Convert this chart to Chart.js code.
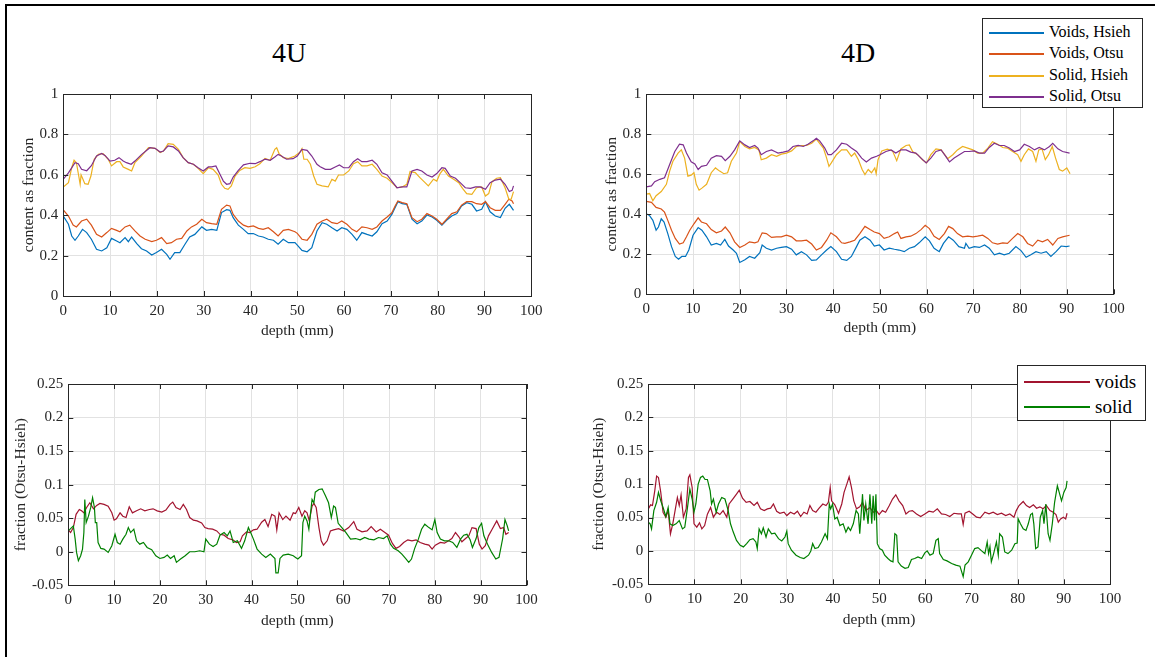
<!DOCTYPE html>
<html>
<head>
<meta charset="utf-8">
<title>4U / 4D void and solid content</title>
<script src="https://cdn.jsdelivr.net/npm/chart.js"></script>
<style>
body{margin:0;background:#fff;width:1155px;height:657px;overflow:hidden;position:relative;font-family:"Liberation Serif","Times New Roman",serif;}
.frame{position:absolute;left:5px;top:4px;width:1200px;height:700px;border-left:2px solid #000;border-top:2px solid #000;}
canvas{position:absolute;}
.ttl{position:absolute;font-size:28px;line-height:28px;color:#000;transform:translateX(-50%);white-space:nowrap;}
.lg{position:absolute;background:#fff;border:1px solid #262626;box-sizing:border-box;}
.lg .t{position:absolute;white-space:nowrap;color:#000;}
.lg .l{position:absolute;height:1.6px;}
</style>
</head>
<body>
<div class="frame"></div>
<div class="ttl" style="left:289px;top:38.5px">4U</div>
<div class="ttl" style="left:858px;top:38.5px">4D</div>
<canvas id="c4u"></canvas>
<canvas id="c4d"></canvas>
<canvas id="d4u"></canvas>
<canvas id="d4d"></canvas>
<div class="lg" id="lgTop"></div>
<div class="lg" id="lgBottom"></div>
<script>
// ---- axes ----
const xTicks = [0, 10, 20, 30, 40, 50, 60, 70, 80, 90, 100];
const fracTicks = [0, 0.2, 0.4, 0.6, 0.8, 1];
const diffTicks = [-0.05, 0, 0.05, 0.1, 0.15, 0.2, 0.25];

const topNames = ['Voids, Hsieh', 'Voids, Otsu', 'Solid, Hsieh', 'Solid, Otsu'];
const topColors = ['#0072BD', '#D95319', '#EDB120', '#7E2F8E'];
const diffNames = ['voids', 'solid'];
const diffColors = ['#A2142F', '#008000'];

// ---- 4U content, [depth mm, fraction] ----
const uVoidsHsieh = [[0,.396],[1.1,.355],[1.8,.297],[2.5,.276],[3.2,.297],[4.1,.33],[5,.314],[6,.281],[7.1,.231],[8.2,.223],[9.3,.239],[10.3,.285],[11.4,.272],[12.1,.264],[13.2,.289],[13.9,.269],[14.6,.292],[15.7,.259],[16.7,.234],[17.8,.223],[18.9,.203],[19.9,.215],[21,.231],[22.1,.206],[22.8,.182],[23.8,.215],[24.9,.215],[26,.256],[27,.292],[28.1,.305],[29.6,.342],[30.6,.325],[31.7,.33],[32.8,.325],[33.8,.413],[34.9,.427],[35.6,.424],[36.3,.388],[37.4,.351],[38.5,.33],[39.5,.309],[40.6,.309],[41.7,.297],[42.7,.292],[43.8,.281],[44.9,.276],[45.9,.256],[47,.281],[48.1,.264],[49.5,.264],[50,.252],[51,.226],[52.1,.219],[53.1,.239],[54.2,.322],[55.3,.363],[56.3,.355],[57.4,.338],[58.5,.322],[59.5,.338],[60.6,.33],[61.7,.305],[62.7,.276],[63.8,.314],[64.9,.305],[66,.297],[67,.318],[68.1,.358],[69.2,.371],[70.2,.404],[71.5,.467],[72.4,.457],[73.4,.454],[74.5,.38],[75.6,.358],[76.6,.371],[77.7,.401],[78.8,.391],[79.8,.375],[80.9,.351],[81.9,.375],[83,.396],[84.1,.408],[85.1,.446],[86.2,.462],[87.3,.454],[88.3,.421],[89.4,.429],[90.2,.467],[91.2,.417],[92.3,.396],[93.4,.388],[94.4,.434],[95.3,.454],[96.2,.424]];
const uVoidsOtsu = [[0,.426],[1.1,.396],[2.1,.351],[2.8,.342],[3.9,.371],[5,.38],[6,.351],[7.1,.305],[8.2,.292],[9.3,.314],[10.3,.335],[11.4,.325],[12.1,.318],[13.2,.342],[14.2,.351],[15.3,.322],[16.4,.297],[17.5,.281],[18.9,.269],[19.9,.276],[21,.289],[22.1,.259],[23.1,.264],[24.2,.281],[25.3,.285],[26.4,.322],[27.4,.342],[28.5,.355],[29.6,.38],[30.6,.363],[31.7,.358],[32.8,.355],[33.8,.429],[34.9,.45],[35.6,.446],[36.3,.404],[37.4,.371],[38.5,.351],[39.5,.342],[40.6,.347],[41.7,.335],[42.7,.33],[43.8,.338],[44.9,.318],[45.9,.297],[47,.325],[48.1,.33],[49.5,.318],[50,.31],[51,.281],[52.1,.276],[53.1,.305],[54.2,.355],[55.3,.371],[56.3,.38],[57.4,.363],[58.5,.358],[59.5,.371],[60.6,.355],[61.7,.33],[62.7,.318],[63.8,.342],[64.9,.338],[66,.33],[67,.342],[68.1,.371],[69.2,.391],[70.2,.412],[70.9,.446],[71.5,.47],[72.4,.462],[73.4,.457],[74.5,.388],[75.6,.368],[76.6,.38],[77.7,.408],[78.8,.396],[79.8,.38],[80.9,.355],[81.9,.38],[83,.408],[84.1,.417],[85.1,.45],[86.2,.467],[87.3,.467],[88.3,.457],[89.4,.454],[90.2,.467],[91.2,.437],[92.3,.424],[93.4,.424],[94.4,.454],[95.2,.479],[95.9,.47],[96.2,.457]];
const uSolidHsieh = [[0,.54],[1.1,.561],[1.8,.635],[2.3,.672],[2.8,.66],[3.3,.594],[3.6,.553],[3.8,.6],[4.6,.556],[5.3,.553],[5.9,.594],[6.6,.677],[7.5,.701],[8.5,.705],[9.6,.677],[10.3,.644],[11.4,.665],[12.1,.665],[12.8,.639],[13.9,.627],[14.6,.619],[15.3,.66],[16.7,.693],[18.2,.734],[19.6,.731],[20.7,.71],[21.4,.718],[22.4,.754],[23.5,.751],[24.6,.726],[25.6,.685],[26.7,.66],[27.8,.652],[28.8,.632],[29.9,.606],[31,.635],[32,.627],[33.1,.599],[33.8,.553],[34.5,.533],[35.2,.528],[35.9,.545],[36.7,.594],[37.7,.622],[38.8,.635],[39.9,.632],[41,.64],[42,.655],[43.1,.681],[44.2,.672],[45.2,.726],[45.6,.734],[46.1,.705],[47,.685],[48.1,.68],[49.5,.693],[50.5,.71],[51,.729],[51.4,.677],[52.1,.677],[52.8,.652],[53.5,.594],[54.2,.553],[55.3,.545],[56.6,.54],[57.4,.578],[58.1,.569],[58.8,.599],[59.9,.599],[61,.619],[62,.655],[62.9,.665],[63.8,.644],[64.9,.644],[66,.652],[67,.627],[68.1,.594],[69.2,.583],[70.2,.561],[71.3,.536],[72.4,.54],[73.4,.553],[74.1,.616],[75.2,.611],[76.2,.586],[77.3,.561],[78,.545],[79.1,.578],[79.8,.569],[80.5,.606],[81.2,.627],[82.3,.594],[83.4,.578],[84.5,.561],[85.3,.533],[86.2,.507],[87.3,.503],[88.3,.536],[89.4,.54],[90.2,.495],[90.9,.507],[91.6,.566],[92.6,.583],[93.4,.586],[94.4,.536],[95.2,.479],[95.7,.479],[96.2,.517]];
const uSolidOtsu = [[0,.578],[1.1,.61],[2.5,.66],[3.2,.655],[3.9,.627],[5,.62],[6,.645],[7.1,.693],[8.2,.706],[8.9,.696],[10,.668],[11,.672],[11.9,.685],[12.8,.668],[13.5,.66],[14.5,.652],[15.3,.668],[16.7,.7],[18.5,.734],[19.6,.731],[20.7,.713],[21.4,.718],[22.4,.743],[23.5,.738],[24.6,.718],[25.6,.685],[26.7,.66],[27.8,.652],[28.8,.635],[29.9,.619],[31,.639],[31.7,.639],[32.6,.644],[33.5,.602],[34.2,.569],[34.9,.553],[35.6,.556],[36.3,.589],[37.4,.622],[38.5,.649],[39.9,.657],[41,.655],[42,.665],[43.1,.677],[44.2,.672],[45.2,.688],[45.9,.701],[46.6,.693],[47.7,.677],[49.1,.68],[50,.693],[51,.726],[52.1,.721],[53.1,.693],[54.2,.652],[54.9,.64],[56,.627],[57.1,.627],[58.1,.639],[59,.649],[59.9,.635],[61,.635],[62,.665],[62.9,.68],[63.8,.665],[64.9,.665],[66,.672],[67,.652],[68.1,.61],[69.2,.599],[70.2,.569],[71.3,.536],[72.4,.54],[73.4,.54],[74.5,.619],[75.6,.627],[76.6,.619],[77.7,.599],[78.8,.589],[79.8,.606],[80.9,.635],[81.6,.632],[82.7,.594],[83.8,.583],[84.8,.561],[85.9,.536],[87,.533],[88.1,.54],[89.1,.54],[90.2,.528],[91.2,.561],[92.3,.574],[93.4,.578],[94.4,.553],[95.3,.517],[95.9,.523],[96.2,.545]];

// ---- 4D content ----
const dVoidsHsieh = [[0,.402],[0.7,.393],[1.4,.369],[2.1,.32],[2.6,.336],[3.2,.377],[3.8,.361],[4.6,.303],[5.4,.238],[6.2,.189],[6.9,.175],[7.6,.189],[8.4,.189],[9.1,.221],[10,.295],[11.1,.333],[11.9,.32],[12.9,.287],[13.9,.246],[15,.254],[15.9,.246],[16.8,.274],[17.6,.241],[18.6,.221],[19.3,.205],[20,.159],[21.1,.172],[22.1,.189],[23.2,.18],[24.3,.208],[24.8,.246],[25.7,.23],[26.8,.221],[27.9,.23],[28.9,.234],[30,.238],[31.1,.225],[32.1,.197],[33.2,.213],[34.3,.197],[35.4,.169],[36.4,.172],[37.5,.197],[38.6,.221],[39.5,.238],[40.7,.213],[41.8,.175],[42.9,.169],[43.9,.189],[45,.238],[45.7,.27],[46.8,.287],[47.9,.27],[48.8,.241],[49.9,.246],[50.9,.221],[52,.23],[53.1,.225],[54.1,.221],[55.2,.213],[56.3,.23],[57.4,.238],[58.4,.257],[59.7,.287],[60.6,.267],[61.6,.23],[62.7,.213],[63.6,.254],[64.7,.287],[65.7,.27],[66.9,.238],[68.1,.23],[68.4,.254],[69.1,.23],[70.2,.238],[71.3,.234],[72.4,.246],[73.4,.23],[74.5,.197],[75.6,.205],[76.6,.197],[77.7,.205],[79.1,.238],[80.2,.218],[81.3,.185],[82.3,.197],[83.4,.213],[84.5,.205],[85.6,.213],[86.6,.189],[87.7,.213],[88.8,.241],[89.9,.238],[90.6,.241]];
const dVoidsOtsu = [[0,.464],[1.1,.459],[2.1,.434],[3.2,.426],[3.9,.41],[4.6,.369],[5.4,.32],[6.2,.279],[7.1,.251],[7.9,.257],[8.6,.287],[9.3,.32],[10.2,.352],[11.1,.382],[11.8,.361],[12.9,.352],[13.9,.323],[15,.307],[16.1,.316],[16.9,.336],[17.9,.307],[18.9,.262],[20,.234],[21.1,.246],[22.1,.262],[23.2,.257],[23.9,.262],[24.8,.307],[25.7,.303],[26.8,.284],[27.9,.287],[28.9,.287],[30,.295],[31.1,.287],[32.1,.267],[33.2,.267],[34.3,.27],[35.4,.251],[36.4,.221],[37.5,.234],[38.6,.27],[39.5,.307],[40.7,.287],[41.8,.257],[42.5,.254],[43.6,.262],[44.6,.27],[45.7,.303],[46.8,.339],[47.9,.323],[48.8,.311],[49.9,.303],[50.9,.279],[52,.287],[53.1,.303],[53.8,.311],[54.5,.279],[55.6,.287],[56.6,.29],[57.7,.303],[58.8,.323],[59.7,.344],[60.6,.328],[61.6,.29],[62.7,.274],[63.8,.303],[64.7,.339],[65.6,.328],[66.6,.303],[67.7,.287],[68.8,.29],[69.9,.287],[70.9,.29],[72,.295],[73.1,.279],[74.1,.257],[75.2,.251],[76.3,.257],[77.3,.254],[78.4,.279],[79.5,.303],[80.6,.287],[81.6,.254],[82.7,.241],[83.8,.27],[84.8,.262],[85.9,.274],[87,.246],[88.1,.279],[89.1,.287],[90.6,.295]];
const dSolidHsieh = [[0,.5],[0.7,.503],[1.4,.467],[2.1,.492],[3.2,.513],[4.3,.549],[5,.615],[5.7,.664],[6.8,.705],[7.5,.721],[8.2,.68],[8.9,.59],[9.6,.595],[10.2,.607],[10.7,.549],[11.3,.52],[11.9,.53],[12.9,.549],[13.9,.607],[14.8,.631],[15.7,.615],[16.6,.602],[17.4,.607],[18.2,.664],[19.3,.705],[20,.762],[21.1,.738],[22.1,.726],[23.2,.733],[24.1,.721],[24.6,.672],[25.7,.68],[26.8,.697],[27.9,.689],[28.9,.7],[30,.705],[31.1,.716],[32.1,.738],[33.2,.743],[34.3,.743],[35.4,.754],[36.4,.775],[37.1,.754],[37.9,.73],[38.6,.68],[39.1,.639],[39.6,.656],[40.7,.697],[41.8,.721],[42.9,.721],[43.9,.689],[44.6,.705],[45.4,.672],[46.2,.623],[46.8,.598],[47.5,.623],[48.2,.607],[48.9,.631],[49.2,.602],[49.6,.672],[50.4,.716],[51.6,.725],[52.7,.716],[53.6,.667],[54.5,.726],[55.6,.743],[56.3,.746],[57,.713],[58.1,.697],[59.1,.672],[60,.656],[60.9,.697],[62,.726],[63.1,.721],[64.5,.677],[65.6,.697],[66.6,.721],[67.7,.738],[68.8,.73],[69.9,.721],[70.9,.705],[72,.705],[73.1,.73],[74.1,.762],[75.2,.749],[76.3,.733],[77.3,.73],[78.4,.713],[79.5,.697],[80.2,.664],[80.9,.697],[81.8,.726],[82.7,.713],[83.4,.664],[84,.721],[84.7,.726],[85.4,.672],[86.1,.697],[86.9,.738],[87.6,.68],[88.4,.623],[89.1,.615],[90,.631],[90.7,.602]];
const dSolidOtsu = [[0,.536],[1.1,.541],[1.8,.562],[2.9,.574],[3.9,.582],[5,.648],[6.1,.713],[7.1,.749],[7.9,.746],[8.6,.705],[9.6,.661],[10.4,.651],[11.1,.623],[11.8,.639],[12.9,.644],[13.9,.68],[15,.692],[16.1,.689],[16.9,.667],[17.9,.689],[18.9,.721],[20,.766],[21.1,.746],[22.1,.733],[23.2,.743],[23.9,.73],[24.6,.697],[25.7,.713],[26.8,.721],[27.5,.713],[28.2,.705],[29.3,.71],[30.4,.716],[31.4,.738],[32.5,.743],[33.6,.738],[34.6,.749],[35.7,.766],[36.4,.779],[37.1,.766],[38.2,.73],[38.9,.697],[39.6,.697],[40.7,.721],[41.8,.754],[42.9,.749],[43.9,.73],[45,.713],[46.1,.68],[47.1,.661],[48.2,.68],[49.3,.689],[50,.697],[51.3,.713],[52.4,.721],[53.4,.705],[54.5,.721],[55.6,.721],[56.6,.71],[57.7,.705],[58.8,.68],[59.9,.656],[60.9,.68],[62,.713],[63.1,.721],[64.1,.689],[64.9,.661],[65.9,.68],[67,.697],[68.1,.713],[69.1,.713],[70.2,.716],[71.3,.705],[72.4,.705],[73.4,.733],[74.5,.754],[75.6,.743],[76.6,.743],[77.7,.73],[78.8,.713],[79.9,.721],[80.9,.749],[82,.738],[83.1,.721],[84.1,.733],[85.2,.721],[86.3,.738],[87,.754],[88.1,.726],[89.1,.713],[90.6,.705]];

// ---- Otsu - Hsieh differences ----
const uDiffVoids = [[0,.0326],[0.5,.0286],[1.1,.036],[1.7,.0558],[2.4,.063],[2.9,.061],[3.4,.058],[4,.066],[4.7,.073],[5.5,.064],[6.2,.069],[6.9,.072],[7.8,.0706],[8.7,.068],[9.5,.058],[10,.047],[10.5,.049],[11.3,.058],[11.9,.053],[12.6,.051],[13.3,.067],[14,.058],[14.9,.061],[15.8,.064],[16.7,.061],[17.7,.063],[18.5,.064],[19.4,.061],[20.4,.059],[21.3,.062],[22.2,.0706],[22.8,.074],[23.5,.066],[24.4,.063],[25.1,.0706],[25.8,.063],[26.5,.051],[27.3,.047],[28.1,.046],[29.1,.043],[29.8,.036],[30.5,.0345],[31.5,.0336],[32.4,.031],[33.1,.026],[34,.0247],[34.9,.0197],[35.9,.0178],[36.7,.0138],[37.5,.0148],[38,.0237],[38.9,.0296],[39.6,.0286],[40.4,.0326],[41.2,.0336],[42.2,.044],[42.9,.048],[43.6,.0375],[44.4,.0558],[45.1,.053],[45.5,.0326],[46,.058],[46.8,.048],[47.5,.053],[48.4,.047],[49.1,.058],[49.6,.057],[50.3,.066],[51,.053],[51.6,.061],[52.1,.058],[52.6,.046],[53.2,.068],[53.6,.072],[54.1,.066],[54.7,.036],[55.2,.0163],[55.7,.0099],[56.5,.0163],[57.2,.031],[57.9,.0326],[59,.0345],[60.1,.031],[61.2,.036],[62.3,.045],[63,.0336],[64.1,.0296],[65.2,.031],[66.1,.0375],[67.2,.0296],[68.1,.0336],[69.1,.0286],[69.9,.0247],[70.7,.0128],[71.5,.005],[72.3,.0079],[73.2,.0138],[74.1,.0178],[75,.0163],[75.9,.0178],[76.8,.0138],[77.8,.0113],[78.7,.0099],[79.4,.004],[80.1,.0099],[81.2,.0138],[82.1,.0128],[83,.0163],[83.7,.0197],[84.5,.0286],[85.2,.0227],[85.9,.0148],[86.7,.0197],[87.4,.0237],[88.1,.036],[89,.0345],[89.7,.0113],[90.3,.004],[91,.0089],[91.7,.0237],[92.5,.0336],[93.5,.046],[94.3,.0345],[95,.036],[95.5,.026],[96.1,.0286]];
const uDiffSolid = [[0,.031],[0.5,.0345],[1.1,.0385],[1.5,.0188],[1.8,-.001],[2.2,-.0133],[2.7,-.006],[3.1,.004],[3.4,.0286],[3.6,.078],[3.9,.0434],[4.4,.053],[4.9,.066],[5.3,.0805],[5.7,.066],[5.9,.0434],[6.2,.0434],[6.5,.0138],[7.1,.005],[7.8,.004],[8.7,-.001],[9.5,.0089],[10.2,.026],[10.7,.0138],[11.3,.0113],[11.9,.0188],[12.6,.026],[13.1,.036],[13.6,.0286],[14.3,.0336],[14.9,.0163],[15.6,.0113],[16.4,.0138],[17.2,.0064],[18.2,.003],[19.1,-.006],[20,-.01],[20.9,-.0084],[21.6,-.005],[22.3,-.01],[23.1,-.006],[23.6,-.0158],[24.5,-.0109],[25.5,-.006],[26.5,0],[27.6,0],[28.7,.0015],[29.6,0],[30,.0188],[30.8,.0113],[31.6,.0079],[32.4,.0113],[33.1,.0247],[34,.0286],[34.7,.0237],[35.3,.031],[36,.0138],[36.9,.0163],[37.8,.005],[38.5,.0163],[39.3,.036],[39.8,.0286],[40.4,.0188],[41.2,.004],[42.2,-.0035],[43.1,-.0084],[44.1,-.0035],[45.1,-.01],[45.3,-.0316],[45.8,-.0316],[46.2,-.01],[46.9,-.005],[48,-.0035],[49.1,-.006],[49.6,-.0084],[50.1,-.0109],[50.9,-.006],[51.2,.0434],[51.6,.053],[52.1,.046],[52.5,.0336],[52.8,.053],[53.2,.078],[53.6,.073],[53.9,.0888],[54.7,.0928],[55.4,.0938],[56.1,.0839],[56.8,.073],[57.4,.051],[57.9,.068],[58.3,.066],[58.9,.0424],[59.7,.036],[60.6,.0286],[61.6,.0188],[62.7,.0197],[63.7,.0178],[64.7,.0212],[65.6,.0188],[66.7,.0178],[67.7,.0212],[68.8,.0197],[69.6,.0237],[70.3,.0113],[71,.005],[72,.0015],[72.8,-.0035],[73.6,-.01],[74.3,-.0158],[74.9,-.0109],[75.6,.005],[76.4,.0188],[77.1,.0336],[77.8,.041],[78.7,.036],[79.4,.0326],[80,.048],[80.5,.0286],[81.2,.0188],[82.1,.0163],[83,.0163],[83.9,.0138],[84.8,.0064],[85.6,.0188],[86.3,.0247],[87,.026],[87.7,.0178],[88.2,.0064],[89,.0197],[89.6,.036],[90.2,.0424],[90.7,.0237],[91.5,.0113],[92.4,-.001],[93.3,-.0109],[94,-.0084],[94.8,.0197],[95.3,.048],[95.8,.0385],[96.1,.031]];
const dDiffVoids = [[0,.063],[0.5,.069],[0.9,.068],[1.4,.09],[1.8,.112],[2.2,.11],[2.7,.0876],[3.2,.058],[3.8,.0505],[4.3,.0604],[4.8,.0257],[5.3,.0406],[5.8,.0604],[6.3,.08],[6.7,.068],[7.1,.084],[7.6,.0505],[8.2,.063],[8.7,.11],[9,.114],[9.5,.095],[9.9,.0406],[10.5,.0356],[11.1,.042],[11.6,.033],[12.2,.038],[12.8,.055],[13.5,.065],[14.1,.0505],[14.8,.058],[15.5,.0545],[16.2,.0604],[17,.0505],[17.5,.0703],[18.3,.0777],[19.1,.085],[19.7,.091],[20.4,.079],[21.2,.0728],[22,.074],[22.9,.068],[23.6,.0728],[24.3,.063],[25.1,.0604],[25.8,.063],[26.5,.064],[27.1,.0703],[27.8,.0594],[28.5,.0564],[29.4,.058],[30,.053],[30.8,.058],[31.6,.0554],[32.3,.0594],[33,.0515],[33.7,.058],[34.4,.0554],[35,.068],[35.6,.0604],[36.3,.058],[37,.064],[37.8,.0703],[38.5,.068],[39,.0728],[39.4,.095],[39.7,.075],[40.4,.069],[41.2,.0564],[41.9,.0703],[42.4,.0876],[43,.1],[43.5,.111],[44,.095],[44.5,.075],[45.1,.063],[45.8,.066],[46.4,.0728],[47.1,.0604],[48,.065],[48.7,.058],[49.4,.0604],[50,.0545],[50.7,.0604],[51.4,.058],[52.2,.068],[52.9,.0777],[53.6,.084],[54.3,.075],[55.1,.068],[55.8,.0554],[56.5,.0594],[57.2,.0604],[58.1,.0554],[59,.0515],[59.9,.0554],[60.8,.0594],[61.7,.058],[62.6,.063],[63.5,.0554],[64.4,.0545],[65.3,.0515],[66.2,.0564],[67.1,.0554],[67.8,.0554],[68.2,.0396],[68.6,.0564],[69.5,.0594],[70.4,.0545],[71.1,.0505],[71.9,.0495],[72.9,.058],[73.8,.0554],[74.7,.058],[75.6,.0545],[76.5,.0564],[77.4,.053],[78.3,.0554],[79.2,.0505],[79.7,.0604],[80.3,.068],[81.2,.074],[81.9,.068],[82.6,.065],[83.4,.069],[84.1,.064],[84.8,.066],[85.5,.063],[86.2,.068],[87,.0604],[87.7,.058],[88.3,.0545],[88.8,.043],[89.3,.048],[89.9,.0505],[90.4,.048],[90.7,.0564]];
const dDiffSolid = [[0,.043],[0.4,.0406],[0.7,.033],[1.2,.0604],[1.8,.0728],[2.2,.0876],[2.7,.075],[3.2,.065],[3.8,.0515],[4.3,.065],[4.7,.0406],[5.3,.038],[6,.0406],[6.7,.0455],[7.4,.033],[7.9,.0356],[8.4,.0604],[9,.0926],[9.5,.0777],[9.9,.058],[10.3,.0703],[10.8,.1],[11.3,.11],[11.8,.112],[12.3,.107],[12.8,.107],[13.4,.09],[13.7,.0703],[14.1,.0777],[14.7,.058],[15.2,.0703],[15.9,.08],[16.6,.0777],[17.3,.0604],[17.8,.0406],[18.4,.0282],[19.1,.0158],[19.9,.0084],[20.6,.006],[21.3,.0109],[22,.0168],[22.7,.0183],[23.3,.0134],[23.6,.0035],[24,.033],[24.5,.0257],[24.9,.0347],[25.5,.0208],[26,.033],[26.7,.0257],[27.4,.0267],[28.2,.0183],[28.9,.0149],[29.6,.0208],[30,.0297],[30.3,.0109],[31,.001],[32,-.0064],[32.9,-.0099],[33.7,-.0114],[34.7,-.0064],[35.2,0],[35.6,.0109],[36.1,.0035],[36.8,.005],[37.5,.0134],[38.3,.0257],[38.8,.0183],[39.2,.0703],[39.5,.063],[39.9,.0703],[40.4,.048],[40.9,.0505],[41.5,.038],[42.2,.0406],[42.8,.0282],[43.3,.0356],[43.8,.0307],[44.4,.0406],[45,.0604],[45.5,.0554],[45.8,.0257],[46.4,.085],[46.7,.0455],[47.1,.0703],[47.6,.0406],[48,.085],[48.4,.0406],[48.7,.0827],[49,.0455],[49.3,.085],[49.6,.0109],[50.1,.0035],[50.7,.001],[51.2,-.0064],[51.9,-.0114],[52.5,-.0149],[53,-.0163],[53.4,.0257],[53.8,.0233],[54.1,-.0163],[54.8,-.0228],[55.6,-.026],[56.3,-.0248],[57,-.0129],[57.7,-.0114],[58.4,-.0089],[59.2,-.0114],[59.9,-.003],[60.4,0],[61,-.0064],[61.7,-.004],[62.3,.0158],[62.8,.0183],[63.1,-.004],[63.9,-.0129],[64.7,-.0149],[65.7,-.0188],[66.6,-.0213],[67.5,-.0228],[68.2,-.0386],[68.6,-.0213],[69.3,-.0163],[70,-.0064],[70.7,.0035],[71.4,.005],[72.2,0],[72.9,-.004],[73.4,.0134],[73.7,-.004],[74,.006],[74.3,-.0163],[74.8,-.004],[75.4,.0134],[75.8,-.0064],[76.1,.0257],[76.7,.0208],[77.2,-.0015],[77.9,-.004],[78.7,.001],[79.4,.0109],[79.9,.0119],[80.1,.048],[80.6,.0406],[81.2,.033],[81.8,.0307],[82.3,.0406],[82.8,.0545],[83.2,.0564],[83.5,.0406],[83.9,.0035],[84.4,.006],[84.9,.0505],[85.4,.0604],[85.7,.0406],[86.1,.0703],[86.6,.0257],[87,.0158],[87.5,.0406],[88,.0728],[88.6,.0975],[89,.0876],[89.5,.075],[90,.0876],[90.5,.095],[90.7,.105]];

const serif = '"Liberation Serif", "Times New Roman", serif';
const axisInk = '#262626';

// matlab style box with inward ticks on all four sides
const boxPlugin = {
    id: 'box',
    afterDatasetsDraw(chart) {
        const {ctx, chartArea: a, scales: {x, y}} = chart;
        ctx.save();
        ctx.strokeStyle = axisInk;
        ctx.lineWidth = 1;
        ctx.beginPath();
        x.ticks.forEach(t => {
            const px = Math.round(x.getPixelForValue(t.value)) + 0.5;
            ctx.moveTo(px, a.bottom); ctx.lineTo(px, a.bottom - 5);
            ctx.moveTo(px, a.top); ctx.lineTo(px, a.top + 5);
        });
        y.ticks.forEach(t => {
            const py = Math.round(y.getPixelForValue(t.value)) + 0.5;
            ctx.moveTo(a.left, py); ctx.lineTo(a.left + 5, py);
            ctx.moveTo(a.right, py); ctx.lineTo(a.right - 5, py);
        });
        ctx.stroke();
        ctx.strokeRect(Math.round(a.left) + 0.5, Math.round(a.top) + 0.5,
            Math.round(a.right - a.left), Math.round(a.bottom - a.top));
        ctx.restore();
    }
};

function plot(id, box, series, names, colors, yTicks, yLabel) {
    const cv = document.getElementById(id);
    cv.width = box.w; cv.height = box.h;
    cv.style.left = box.x + 'px';
    cv.style.top = box.y + 'px';
    const yMin = yTicks[0], yMax = yTicks[yTicks.length - 1];
    return new Chart(cv, {
        type: 'line',
        data: {
            datasets: series.map((pts, i) => ({
                label: names[i],
                data: pts.map(p => ({x: p[0], y: p[1]})),
                borderColor: colors[i],
                borderWidth: 1.2,
                pointRadius: 0,
                tension: 0,
                fill: false,
                order: series.length - i
            }))
        },
        options: {
            responsive: false,
            animation: false,
            devicePixelRatio: 1,
            layout: {padding: {left: 0, top: box.T - box.y, right: box.x + box.w - box.R, bottom: 0}},
            plugins: {legend: {display: false}, tooltip: {enabled: false}},
            scales: {
                x: {
                    type: 'linear', min: 0, max: 100,
                    afterBuildTicks: s => { s.ticks = xTicks.map(v => ({value: v})); },
                    afterFit: s => { s.height = box.y + box.h - box.B; },
                    ticks: {color: axisInk, font: {family: serif, size: 15}, padding: 6, maxRotation: 0, autoSkip: false, callback: v => String(v)},
                    grid: {color: '#e2e2e2', drawTicks: false},
                    border: {display: false},
                    title: {display: true, text: 'depth (mm)', color: axisInk, font: {family: serif, size: 15.5}, padding: {top: 0, bottom: box.xt}}
                },
                y: {
                    type: 'linear', min: yMin, max: yMax,
                    afterBuildTicks: s => { s.ticks = yTicks.map(v => ({value: v})); },
                    afterFit: s => { s.width = box.L - box.x; },
                    ticks: {color: axisInk, font: {family: serif, size: 15}, padding: 5, autoSkip: false, callback: v => String(v)},
                    grid: {color: '#e2e2e2', drawTicks: false},
                    border: {display: false},
                    title: {display: true, text: yLabel, color: axisInk, font: {family: serif, size: 15.5}, padding: {top: box.yt, bottom: 0}}
                }
            }
        },
        plugins: [boxPlugin]
    });
}

plot('c4u', {x: 0, y: 80, w: 560, h: 265, L: 63.3, R: 531.3, T: 94, B: 296, xt: 5, yt: 20},
    [uVoidsHsieh, uVoidsOtsu, uSolidHsieh, uSolidOtsu], topNames, topColors, fracTicks, 'content as fraction');
plot('c4d', {x: 580, y: 80, w: 575, h: 265, L: 646.3, R: 1113.5, T: 91, B: 294.3, xt: 7.5, yt: 23},
    [dVoidsHsieh, dVoidsOtsu, dSolidHsieh, dSolidOtsu], topNames, topColors, fracTicks, 'content as fraction');
plot('d4u', {x: 0, y: 370, w: 560, h: 270, L: 68.3, R: 526.5, T: 382.7, B: 585.3, xt: 10, yt: 12},
    [uDiffVoids, uDiffSolid], diffNames, diffColors, diffTicks, 'fraction (Otsu-Hsieh)');
plot('d4d', {x: 580, y: 370, w: 575, h: 270, L: 648.3, R: 1110, T: 382, B: 584.3, xt: 11, yt: 10},
    [dDiffVoids, dDiffSolid], diffNames, diffColors, diffTicks, 'fraction (Otsu-Hsieh)');

// legends, built from the same names and colours as the datasets
function legend(id, box, names, colors, opt) {
    const el = document.getElementById(id);
    Object.assign(el.style, {left: box.x + 'px', top: box.y + 'px', width: box.w + 'px', height: box.h + 'px'});
    names.forEach((n, i) => {
        const cy = Math.round(opt.first + i * opt.step);
        const l = document.createElement('div');
        l.className = 'l';
        l.style.left = opt.lx + 'px';
        l.style.width = opt.lw + 'px';
        l.style.top = cy + 'px';
        l.style.backgroundColor = colors[i];
        const t = document.createElement('div');
        t.className = 't';
        t.textContent = n;
        Object.assign(t.style, {left: opt.tx + 'px', top: (cy - opt.size * 0.5) + 'px', fontSize: opt.size + 'px', lineHeight: opt.size + 'px'});
        el.appendChild(l);
        el.appendChild(t);
    });
}
legend('lgTop', {x: 982, y: 18, w: 161, h: 90}, topNames, topColors, {first: 13, step: 21.3, lx: 6, lw: 55, tx: 66, size: 16});
legend('lgBottom', {x: 1017, y: 365, w: 129, h: 56}, diffNames, diffColors, {first: 15, step: 25, lx: 6, lw: 66, tx: 77, size: 19});
</script>
</body>
</html>
